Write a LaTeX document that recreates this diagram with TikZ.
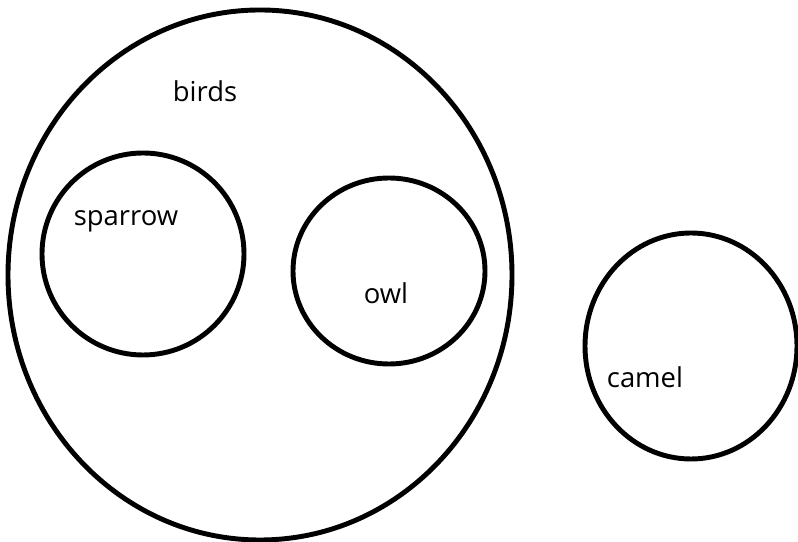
\documentclass[tikz,border=0pt]{standalone}
\usepackage{fontspec}
\setmainfont{Open Sans}
\usetikzlibrary{shapes.geometric}
\tikzset{every picture/.style={line width=3.5pt}}

\begin{document}
\begin{tikzpicture}[every node/.style={font=\fontsize{19.5}{23}\selectfont}]
        \useasboundingbox (0, 0) rectangle (19.95, 13.55);
        \tikzset{set/.style={ellipse, draw, inner sep=0pt, outer sep=0pt}}
        \node[set, minimum width=12.6cm, minimum height=13.25cm] (birds)   at (6.5, 6.675)   {};
        \node[set, minimum width=5.05cm, minimum height=5.05cm]  (sparrow) at (3.575, 7.2)   {};
        \node[set, minimum width=4.8cm,  minimum height=4.65cm]  (owl)     at (9.725, 6.775) {};
        \node[set, minimum width=5.3cm,  minimum height=5.65cm]  (camel)   at (17.275, 4.9)  {};
        \node (birdstext)   at (5.125, 11.28) {birds};
        \node (sparrowtext) at (3.15, 8.02)   {sparrow};
        \node (owltext)     at (9.65, 6.22)   {owl};
        \node (cameltext)   at (16.125, 4.12) {camel};
    \end{tikzpicture}
\end{document}
